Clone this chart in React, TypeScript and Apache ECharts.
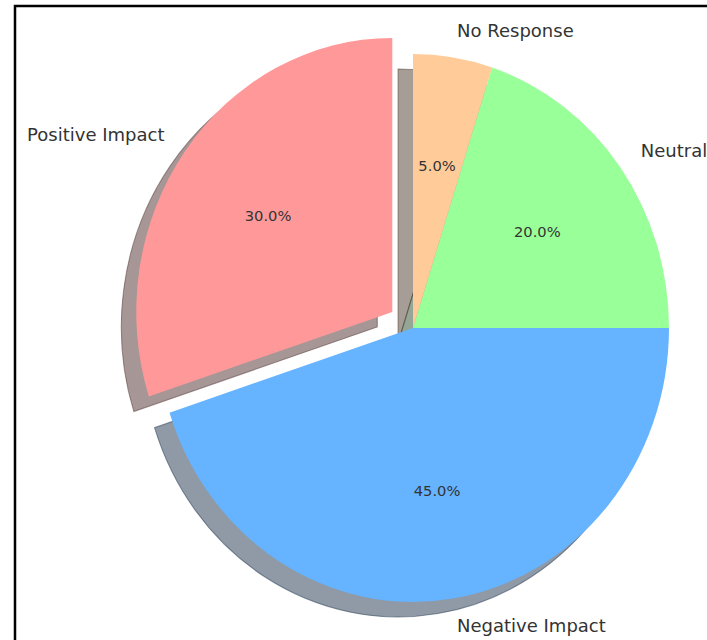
import React, { useEffect, useRef } from 'react';
import * as echarts from 'echarts';

const labels = ['Positive Impact', 'Negative Impact', 'Neutral', 'No Response'];
const values = [30, 45, 20, 5];
const colors = ['#ff9999', '#66b3ff', '#99ff99', '#ffcc99'];
const explode = [0.1, 0, 0, 0];
const startAngle = 90;

export default function App() {
  const ref = useRef<HTMLDivElement>(null);
  useEffect(() => {
    document.body.style.margin = '0';
    const chart = echarts.init(ref.current!, null, { renderer: 'svg' });
    const total = values.reduce((a, b) => a + b, 0);
    const cx = 413, cy = 328, rx = 256, ry = 274;
    const shadowDx = -15, shadowDy = 15;
    const DEG = Math.PI / 180;

    const geom = (i: number) => {
      let cum = 0;
      for (let k = 0; k < i; k++) cum += values[k];
      const t1 = startAngle + (cum / total) * 360;
      const t2 = t1 + (values[i] / total) * 360;
      const mid = ((t1 + t2) / 2) * DEG;
      const ox = explode[i] * Math.cos(mid);
      const oy = explode[i] * Math.sin(mid);
      return { t1, t2, mid, ox, oy };
    };

    const shadowColor = (hex: string) => {
      const r = parseInt(hex.slice(1, 3), 16) * 0.3;
      const g = parseInt(hex.slice(3, 5), 16) * 0.3;
      const b = parseInt(hex.slice(5, 7), 16) * 0.3;
      return `rgba(${r.toFixed(0)},${g.toFixed(0)},${b.toFixed(0)},0.5)`;
    };

    const sectorGroup = (i: number, dx: number, dy: number, style: any) => {
      const g = geom(i);
      return {
        type: 'group',
        x: cx + g.ox * rx + dx,
        y: cy - g.oy * ry + dy,
        scaleY: ry / rx,
        children: [
          {
            type: 'sector',
            shape: {
              cx: 0,
              cy: 0,
              r0: 0,
              r: rx,
              startAngle: -g.t2 * DEG,
              endAngle: -g.t1 * DEG,
              clockwise: true,
            },
            style,
          },
        ],
      };
    };

    const data = values.map((v, i) => ({ value: v, name: labels[i] }));

    chart.setOption({
      animation: false,
      backgroundColor: '#ffffff',
      graphic: [
        {
          type: 'rect',
          shape: { x: 15, y: 6, width: 900, height: 900 },
          style: { fill: 'none', stroke: '#000000', lineWidth: 2.5 },
          z: 0,
        },
      ],
      series: [
        {
          type: 'custom',
          coordinateSystem: 'none',
          silent: true,
          z: 1,
          data,
          renderItem: (params: any) => {
            const i = params.dataIndex;
            const c = shadowColor(colors[i]);
            return sectorGroup(i, shadowDx, shadowDy, { fill: c, stroke: c, lineWidth: 1 });
          },
        },
        {
          type: 'custom',
          coordinateSystem: 'none',
          silent: true,
          z: 2,
          data,
          renderItem: (params: any) => {
            const i = params.dataIndex;
            const g = geom(i);
            const lx = g.ox + 1.1 * Math.cos(g.mid);
            const ly = g.oy + 1.1 * Math.sin(g.mid);
            const px = g.ox + 0.6 * Math.cos(g.mid);
            const py = g.oy + 0.6 * Math.sin(g.mid);
            const pct = ((values[i] / total) * 100).toFixed(1) + '%';
            return {
              type: 'group',
              children: [
                sectorGroup(i, 0, 0, { fill: colors[i] }),
                {
                  type: 'text',
                  x: cx + lx * rx,
                  y: cy - ly * ry,
                  z2: 10,
                  style: {
                    text: labels[i],
                    fill: '#333333',
                    fontSize: 18,
                    fontFamily: '"DejaVu Sans"',
                    align: lx > 0 ? 'left' : 'right',
                    verticalAlign: 'middle',
                  },
                },
                {
                  type: 'text',
                  x: cx + px * rx,
                  y: cy - py * ry,
                  z2: 10,
                  style: {
                    text: pct,
                    fill: '#333333',
                    fontSize: 14.7,
                    fontFamily: '"DejaVu Sans"',
                    align: 'center',
                    verticalAlign: 'middle',
                  },
                },
              ],
            };
          },
        },
      ],
    });
    return () => chart.dispose();
  }, []);
  return (
    <div
      ref={ref}
      style={{ position: 'absolute', left: 0, top: 0, width: 707, height: 640 }}
    />
  );
}
